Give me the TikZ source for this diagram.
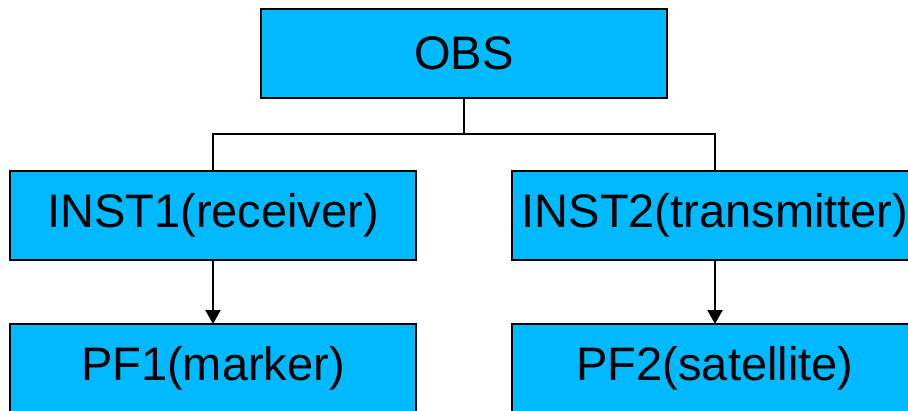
\documentclass[tikz,border=0pt]{standalone}
\usepackage{fontspec}
\setmainfont{Liberation Sans}
\usetikzlibrary{arrows.meta}
\definecolor{boxblue}{RGB}{0,185,255}
\begin{document}
\begin{tikzpicture}[x=1pt,y=-1pt,
  box/.style={draw=black, line width=2.6pt, fill=boxblue, minimum width=406pt, minimum height=89pt, inner sep=0pt, outer sep=0pt, font=\fontsize{47}{56}\selectfont, anchor=north west},
  conn/.style={line width=2.2pt, draw=black},
  arr/.style={conn, -{Triangle[length=14pt,width=15pt]}}]
\useasboundingbox (0,0) rectangle (908,410);
\node[box] (obs) at (261,9) {OBS};
\node[box] (inst1) at (10,171) {INST1(receiver)};
\node[box] (inst2) at (512,171) {INST2(transmitter)};
\node[box] (pf1) at (10,324) {PF1(marker)};
\node[box] (pf2) at (512,324) {PF2(satellite)};
\coordinate (lvl) at (0,134);
\coordinate (j) at (obs.south |- lvl);
\draw[conn] (obs.south) -- (j);
\draw[conn] (j) -| (inst1.north);
\draw[conn] (j) -| (inst2.north);
\draw[arr] (inst1.south) -- (pf1.north);
\draw[arr] (inst2.south) -- (pf2.north);
\end{tikzpicture}
\end{document}
